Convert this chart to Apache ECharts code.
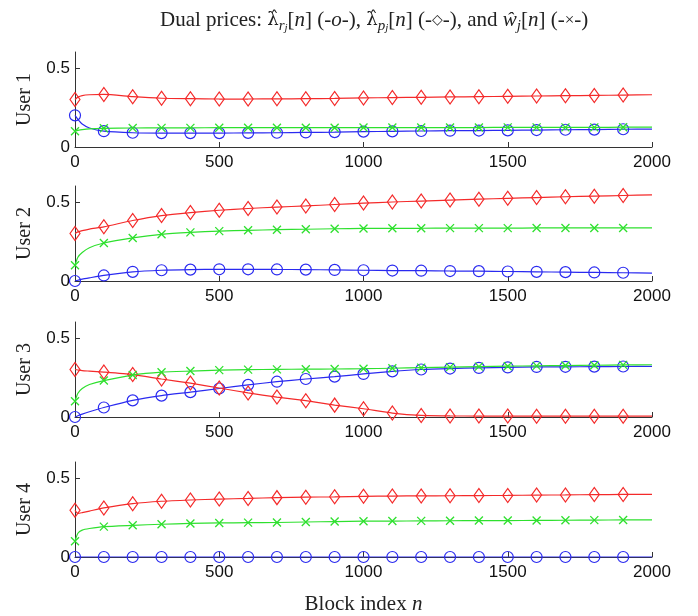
<!DOCTYPE html>
<html><head><meta charset="utf-8">
<script src="https://cdn.jsdelivr.net/npm/echarts@6/dist/echarts.min.js"></script>
<style>html,body{margin:0;padding:0;background:#fff}#c{width:698px;height:616px}</style>
</head><body><div id="c"></div>
<script>
// ---- data ----
const blockIndex = [0,10,25,50,100,200,300,400,500,600,700,800,900,1000,1100,1200,1300,1400,1500,1600,1700,1800,1900,2000];
const xTicks = [0,500,1000,1500,2000];
const yTicks = [0,0.5];
const userNames = ['User 1','User 2','User 3','User 4'];

// User 1
const lamR_u1 = [0.2,0.175,0.145,0.12,0.1,0.09,0.088,0.088,0.088,0.089,0.09,0.092,0.094,0.097,0.099,0.101,0.103,0.104,0.105,0.107,0.109,0.11,0.112,0.113];
const lamP_u1 = [0.3,0.315,0.325,0.33,0.332,0.318,0.308,0.305,0.303,0.303,0.304,0.305,0.307,0.31,0.312,0.314,0.316,0.318,0.32,0.322,0.324,0.326,0.328,0.33];
const w_u1    = [0.1,0.105,0.11,0.115,0.118,0.12,0.121,0.121,0.122,0.122,0.122,0.122,0.122,0.123,0.123,0.123,0.123,0.123,0.124,0.124,0.124,0.124,0.125,0.125];
// User 2
const lamR_u2 = [0,0.005,0.012,0.02,0.035,0.058,0.068,0.072,0.074,0.074,0.073,0.072,0.07,0.068,0.066,0.065,0.063,0.062,0.06,0.058,0.056,0.054,0.052,0.05];
const lamP_u2 = [0.3,0.31,0.318,0.328,0.342,0.382,0.413,0.432,0.447,0.458,0.467,0.474,0.483,0.492,0.499,0.505,0.511,0.517,0.522,0.527,0.532,0.536,0.54,0.544];
const w_u2    = [0.1,0.15,0.18,0.21,0.24,0.272,0.295,0.307,0.315,0.32,0.324,0.327,0.33,0.332,0.333,0.333,0.334,0.334,0.334,0.335,0.335,0.335,0.335,0.335];
// User 3
const lamR_u3 = [0,0.008,0.018,0.033,0.06,0.105,0.135,0.157,0.18,0.203,0.223,0.24,0.255,0.272,0.288,0.3,0.306,0.31,0.313,0.316,0.317,0.318,0.319,0.32];
const lamP_u3 = [0.3,0.297,0.293,0.29,0.284,0.268,0.24,0.214,0.183,0.152,0.126,0.103,0.075,0.052,0.025,0.01,0.007,0.006,0.006,0.005,0.005,0.005,0.005,0.005];
const w_u3    = [0.1,0.15,0.18,0.205,0.23,0.265,0.283,0.29,0.296,0.299,0.301,0.302,0.303,0.305,0.308,0.312,0.315,0.318,0.321,0.323,0.325,0.327,0.329,0.33];
// User 4
const lamR_u4 = [0,0,0,0,0,0,0,0,0,0,0,0,0,0,0,0,0,0,0,0,0,0,0,0];
const lamP_u4 = [0.295,0.275,0.28,0.29,0.31,0.337,0.352,0.36,0.366,0.37,0.375,0.378,0.38,0.383,0.385,0.386,0.387,0.388,0.389,0.391,0.392,0.394,0.395,0.396];
const w_u4    = [0.1,0.15,0.17,0.18,0.192,0.2,0.207,0.212,0.215,0.217,0.218,0.221,0.224,0.226,0.227,0.228,0.229,0.23,0.23,0.231,0.232,0.233,0.234,0.234];

const lamR = [lamR_u1, lamR_u2, lamR_u3, lamR_u4];
const lamP = [lamP_u1, lamP_u2, lamP_u3, lamP_u4];
const wHat = [w_u1, w_u2, w_u3, w_u4];

// ---- styling ----
const RED = '#f42a2a', GREEN = '#2ee02e', BLUE = '#2a2af0';
const SERIF = '"Liberation Serif", "DejaVu Serif", serif';
const SANS = '"Liberation Sans", Arial, sans-serif';
const gridTops = [52, 186, 322, 462];
const gridH = 95;

function markedData(ys) {
  return blockIndex.map((x, k) => {
    const d = { value: [x, ys[k]] };
    if (!(x % 100 === 0 && x < 2000)) d.symbol = 'none';
    return d;
  });
}

const grids = [], xAxes = [], yAxes = [], series = [];
for (let i = 0; i < 4; i++) {
  grids.push({ left: 75, right: 46, top: gridTops[i], height: gridH });
  xAxes.push({
    type: 'value', gridIndex: i, min: 0, max: 2000,
    axisLine: { lineStyle: { color: '#333', width: 1 } },
    axisTick: { inside: true, length: 5, customValues: xTicks, lineStyle: { color: '#333' } },
    axisLabel: { customValues: xTicks, formatter: v => String(v), fontFamily: SANS, fontSize: 17, color: '#111', margin: 7 },
    splitLine: { show: false },
    name: i === 3 ? '{t|Block index }{i|n}' : '',
    nameLocation: 'middle', nameGap: 37,
    nameTextStyle: { rich: {
      t: { fontFamily: SERIF, fontSize: 21, color: '#222' },
      i: { fontFamily: SERIF, fontSize: 21, fontStyle: 'italic', color: '#222' }
    } }
  });
  yAxes.push({
    type: 'value', gridIndex: i, min: 0, max: 0.6,
    axisLine: { show: true, lineStyle: { color: '#333', width: 1 } },
    axisTick: { show: true, inside: true, length: 5, customValues: yTicks, lineStyle: { color: '#333' } },
    axisLabel: { customValues: yTicks, formatter: v => String(v), fontFamily: SANS, fontSize: 17, color: '#111', margin: 5 },
    splitLine: { show: false },
    name: userNames[i], nameLocation: 'middle', nameRotate: 90, nameGap: 40,
    nameTextStyle: { fontFamily: SERIF, fontSize: 20, color: '#222' }
  });
  series.push({
    type: 'line', xAxisIndex: i, yAxisIndex: i, data: markedData(lamR[i]),
    symbol: 'circle', symbolSize: 11, smooth: 0.2,
    lineStyle: { color: BLUE, width: 1.2 },
    itemStyle: { color: 'rgba(0,0,0,0)', borderColor: BLUE, borderWidth: 1.2 },
    emphasis: { disabled: true }, z: 2
  });
  series.push({
    type: 'line', xAxisIndex: i, yAxisIndex: i, data: markedData(lamP[i]),
    symbol: 'diamond', symbolSize: [10, 14], smooth: 0.2,
    lineStyle: { color: RED, width: 1.2 },
    itemStyle: { color: 'rgba(0,0,0,0)', borderColor: RED, borderWidth: 1.2 },
    emphasis: { disabled: true }, z: 3
  });
  series.push({
    type: 'line', xAxisIndex: i, yAxisIndex: i, data: markedData(wHat[i]),
    symbol: 'path://M0,0L10,10M10,0L0,10', symbolSize: 8, smooth: 0.2,
    lineStyle: { color: GREEN, width: 1.2 },
    itemStyle: { color: 'rgba(0,0,0,0)', borderColor: GREEN, borderWidth: 1.3 },
    emphasis: { disabled: true }, z: 4
  });
}

const N = 'normal';
const chart = echarts.init(document.getElementById('c'), null, { renderer: 'canvas' });
chart.setOption({
  animation: false,
  backgroundColor: '#fff',
  title: {
    left: 155, top: 2,
    text: '{t|Dual prices: }{g|λ̂}{s|r}{ss|j}{t|[}{i|n}{t|] (-}{i|o}{t|-), }{g|λ̂}{s|p}{ss|j}{t|[}{i|n}{t|] (-}{d|◇}{t|-), and }{i|ŵ}{s|j}{t|[}{i|n}{t|] (-}{x|×}{t|-)}',
    textStyle: { fontWeight: N, rich: {
      t: { fontFamily: SERIF, fontSize: 21, fontWeight: N, color: '#222', lineHeight: 27 },
      g: { fontFamily: '"DejaVu Serif", serif', fontSize: 18, fontWeight: N, color: '#222', lineHeight: 27 },
      i: { fontFamily: SERIF, fontSize: 21, fontWeight: N, fontStyle: 'italic', color: '#222', lineHeight: 27 },
      s: { fontFamily: SERIF, fontSize: 15, fontWeight: N, fontStyle: 'italic', color: '#222', lineHeight: 14, verticalAlign: 'bottom' },
      ss: { fontFamily: SERIF, fontSize: 11, fontWeight: N, fontStyle: 'italic', color: '#222', lineHeight: 8, verticalAlign: 'bottom' },
      d: { fontFamily: '"DejaVu Sans", sans-serif', fontSize: 14, fontWeight: N, color: '#222', lineHeight: 27 },
      x: { fontFamily: SERIF, fontSize: 17, fontWeight: N, color: '#222', lineHeight: 27 }
    } }
  },
  tooltip: { show: false },
  grid: grids, xAxis: xAxes, yAxis: yAxes, series: series
});
</script>
</body></html>
